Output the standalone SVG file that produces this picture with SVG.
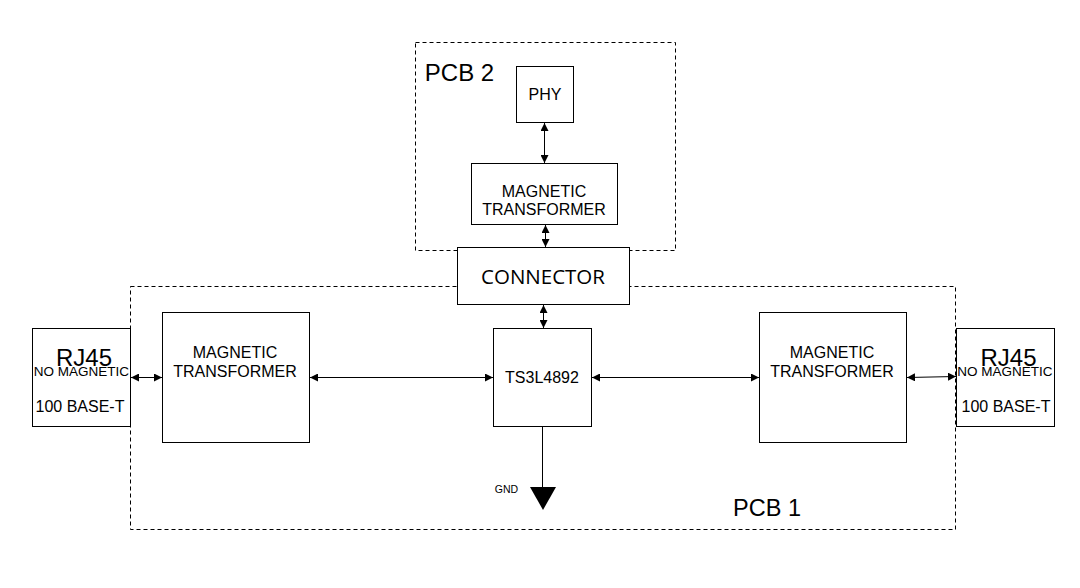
<svg xmlns="http://www.w3.org/2000/svg" width="1080" height="588" viewBox="0 0 1080 588">
<style>
.box{fill:#fff;stroke:#000;stroke-width:1}
.dash{fill:none;stroke:#000;stroke-width:1;stroke-dasharray:4 3}
.t{font-family:"Liberation Sans",Arial,sans-serif;fill:#000;text-anchor:middle}
.w{stroke:#000;stroke-width:1;fill:none;marker-start:url(#a);marker-end:url(#a)}
</style>
<defs>
<marker id="a" viewBox="0 0 10 10" refX="10" refY="5" markerWidth="8" markerHeight="8" markerUnits="userSpaceOnUse" orient="auto-start-reverse"><path d="M0,0 L10,5 L0,10 Z" fill="#000"/></marker>
</defs>
<g id="pcb2"><rect class="dash" x="415.5" y="42.5" width="260" height="208"/><text class="t" x="459.5" y="81" font-size="24">PCB 2</text></g>
<g id="pcb1"><rect class="dash" x="130.5" y="286.5" width="825" height="243"/><text class="t" x="767" y="516" font-size="23.5">PCB 1</text></g>
<g id="phy"><rect class="box" x="516.5" y="66.5" width="57" height="56"/><text class="t" x="545" y="100" font-size="16">PHY</text></g>
<g id="mag-top"><rect class="box" x="471.5" y="163.5" width="146" height="61"/><text class="t" x="544" y="197" font-size="16">MAGNETIC</text><text class="t" x="544" y="215" font-size="16">TRANSFORMER</text></g>
<g id="connector"><rect class="box" x="457.5" y="247.5" width="172" height="57"/><text class="t" x="543" y="284" font-size="20.5" style="font-family:'Open Sans','Noto Sans',sans-serif">CONNECTOR</text></g>
<g id="rj45-left"><rect class="box" x="32.5" y="328.5" width="98" height="98"/><text class="t" x="84" y="366" font-size="24">RJ45</text><text class="t" x="81.5" y="376" font-size="13.5">NO MAGNETIC</text><text class="t" x="80" y="412" font-size="16">100 BASE-T</text></g>
<g id="mag-left"><rect class="box" x="162.5" y="312.5" width="147" height="130"/><text class="t" x="235" y="358" font-size="16">MAGNETIC</text><text class="t" x="235" y="377" font-size="16">TRANSFORMER</text></g>
<g id="ts3l4892"><rect class="box" x="493.5" y="328.5" width="98" height="98"/><text class="t" x="542" y="383" font-size="16">TS3L4892</text></g>
<g id="mag-right"><rect class="box" x="759.5" y="312.5" width="147" height="130"/><text class="t" x="832" y="358" font-size="16">MAGNETIC</text><text class="t" x="832" y="377" font-size="16">TRANSFORMER</text></g>
<g id="rj45-right"><rect class="box" x="956.5" y="328.5" width="98" height="98"/><text class="t" x="1008.5" y="366" font-size="24">RJ45</text><text class="t" x="1005" y="376" font-size="13.5">NO MAGNETIC</text><text class="t" x="1006" y="412" font-size="16">100 BASE-T</text></g>
<g id="gnd"><path d="M530,487 L556,487 L543,510 Z" fill="#000"/><text class="t" x="506.5" y="493" font-size="10.5">GND</text></g>
<g id="connectors">
<line class="w" x1="544.5" y1="123" x2="544.5" y2="163"/>
<line class="w" x1="545.5" y1="225" x2="545.5" y2="247"/>
<line class="w" x1="543.5" y1="305" x2="543.5" y2="328"/>
<line class="w" x1="131" y1="377.5" x2="162" y2="377.5"/>
<line class="w" x1="310" y1="377.5" x2="493" y2="377.5"/>
<line class="w" x1="592" y1="377.5" x2="759" y2="377.5"/>
<line class="w" x1="907" y1="377.5" x2="956" y2="376.5"/>
<line x1="542.5" y1="427" x2="542.5" y2="487" stroke="#000" stroke-width="1"/>
</g>
</svg>
